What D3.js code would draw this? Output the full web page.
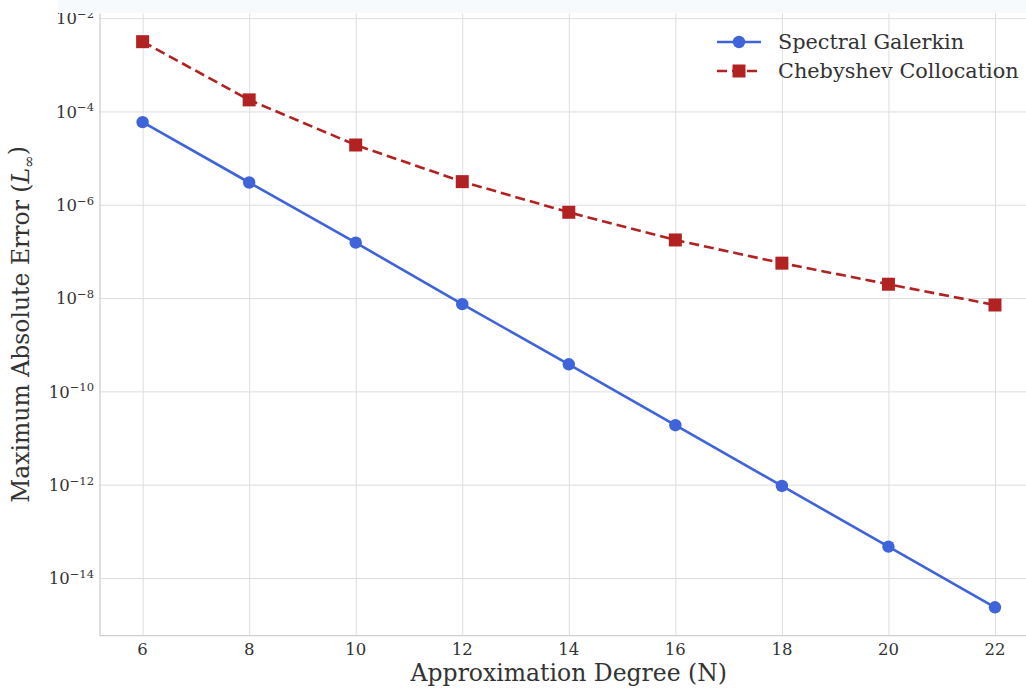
<!DOCTYPE html>
<meta charset='utf-8'>
<style>

body { margin: 0; background: #fff; }
svg { display: block; }
svg text { font-family: 'DejaVu Serif', serif; fill: #333; }

.grid line { stroke: #dedede; stroke-width: 1px; }
.grid .domain { stroke: none; }
.spine { stroke: #cfcfcf; stroke-width: 1.3px; fill: none; }
.tick-label { font-size: 16.5px; }
.axis-label { font-size: 23.5px; }
.legend text { font-size: 20.8px; }

</style>
<body>

<script src='https://cdnjs.cloudflare.com/ajax/libs/d3/7.8.5/d3.min.js'></script>
<script>
'use strict'

// Data

let degrees = [6, 8, 10, 12, 14, 16, 18, 20, 22]
let galerkin = [5.9e-5, 3.0e-6, 1.54e-7, 7.4e-9, 3.8e-10, 1.88e-11, 9.4e-13, 4.7e-14, 2.35e-15]
let collocation = [3.13e-3, 1.77e-4, 1.91e-5, 3.13e-6, 6.9e-7, 1.76e-7, 5.6e-8, 1.98e-8, 7.1e-9]
let x_ticks = [6, 8, 10, 12, 14, 16, 18, 20, 22]
let y_exponents = [-2, -4, -6, -8, -10, -12, -14]
let series_names = ['Spectral Galerkin', 'Chebyshev Collocation']


// Layout (right edge of the axes runs past the picture, as in the original)

let
	W = 1026, H = 689,
	margin = {top: 13.4, left: 100},
	width = 937.6,
	height = 622.2,
	blue = '#3f63d8', red = '#b22222'

let log_min = Math.log10(d3.min(galerkin)), log_max = Math.log10(d3.max(collocation)),
	pad = (log_max - log_min) * 0.05,
	xpad = (d3.max(degrees) - d3.min(degrees)) * 0.05

let x = d3.scaleLinear()
		.domain([d3.min(degrees) - xpad, d3.max(degrees) + xpad]).range([0, width]),
	y = d3.scaleLog()
		.domain([Math.pow(10, log_min - pad), Math.pow(10, log_max + pad)]).range([height, 0])

let svg = d3.select('body').append('svg').attr('width', W).attr('height', H)
let vis = svg.append('g').attr('transform', `translate(${margin.left},${margin.top})`)


// Grid and spines

vis.append('g').attr('class', 'grid')
	.call(d3.axisBottom(x).tickValues(x_ticks).tickSize(height).tickFormat(''))
vis.append('g').attr('class', 'grid')
	.call(d3.axisLeft(y).tickValues(y_exponents.map(e => Math.pow(10, e)))
		.tickSize(-width).tickFormat(''))

vis.append('path').attr('class', 'spine')
	.attr('d', `M0,0V${height}H${width}`)


// Tick labels

vis.append('g').selectAll('text').data(x_ticks).join('text')
	.attr('class', 'tick-label')
	.attr('x', d => x(d)).attr('y', height + 19)
	.attr('text-anchor', 'middle')
	.text(d => d)

vis.append('g').selectAll('text').data(y_exponents).join('text')
	.attr('class', 'tick-label')
	.attr('x', -6).attr('y', d => y(Math.pow(10, d))).attr('dy', '0.38em')
	.attr('text-anchor', 'end')
	.call(s => s.append('tspan').text('10'))
	.call(s => s.append('tspan').attr('dy', '-0.55em').style('font-size', '11.5px')
		.text(d => '\u2212' + Math.abs(d)))


// Axis labels

vis.append('text').attr('class', 'axis-label')
	.attr('x', width / 2).attr('y', height + 45)
	.attr('text-anchor', 'middle')
	.text('Approximation Degree (N)')

vis.append('text').attr('class', 'axis-label')
	.attr('transform', `translate(${-margin.left + 29},${height / 2}) rotate(-90)`)
	.attr('text-anchor', 'middle')
	.call(s => s.append('tspan').text('Maximum Absolute Error ('))
	.call(s => s.append('tspan').style('font-style', 'italic').text('L'))
	.call(s => s.append('tspan').attr('dy', '0.3em').style('font-size', '15px').text('\u221e'))
	.call(s => s.append('tspan').attr('dy', '-0.3em').text(')'))


// Series

let line = d3.line().x(d => x(d[0])).y(d => y(d[1]))

vis.append('path')
	.datum(d3.zip(degrees, galerkin))
	.attr('fill', 'none').attr('stroke', blue).attr('stroke-width', 2.6)
	.attr('d', line)
vis.append('g').selectAll('circle').data(d3.zip(degrees, galerkin)).join('circle')
	.attr('cx', d => x(d[0])).attr('cy', d => y(d[1])).attr('r', 6.2)
	.attr('fill', blue)

vis.append('path')
	.datum(d3.zip(degrees, collocation))
	.attr('fill', 'none').attr('stroke', red).attr('stroke-width', 2.6)
	.attr('stroke-dasharray', '10,5')
	.attr('d', line)
vis.append('g').selectAll('rect').data(d3.zip(degrees, collocation)).join('rect')
	.attr('x', d => x(d[0]) - 6.5).attr('y', d => y(d[1]) - 6.5)
	.attr('width', 13).attr('height', 13)
	.attr('fill', red)


// Legend

let legend = svg.append('g').attr('class', 'legend')
	.selectAll('g').data(series_names).join('g')
		.attr('transform', (d, i) => `translate(717,${42 + i * 29})`)

legend.append('line')
	.attr('x1', 0).attr('x2', 44)
	.attr('stroke', (d, i) => i ? red : blue).attr('stroke-width', 2.6)
	.attr('stroke-dasharray', (d, i) => i ? '10,5' : null)
legend.filter((d, i) => i == 0).append('circle').attr('cx', 22).attr('r', 6.2).attr('fill', blue)
legend.filter((d, i) => i == 1).append('rect')
	.attr('x', 15.5).attr('y', -6.5).attr('width', 13).attr('height', 13).attr('fill', red)
legend.append('text').attr('x', 61).attr('dy', '0.35em').text(d => d)


// Pale strip across the top edge of the picture

svg.append('rect').attr('x', 58).attr('y', 0).attr('width', W - 58).attr('height', 13)
	.attr('fill', '#f6fafc')

</script>
</body>
